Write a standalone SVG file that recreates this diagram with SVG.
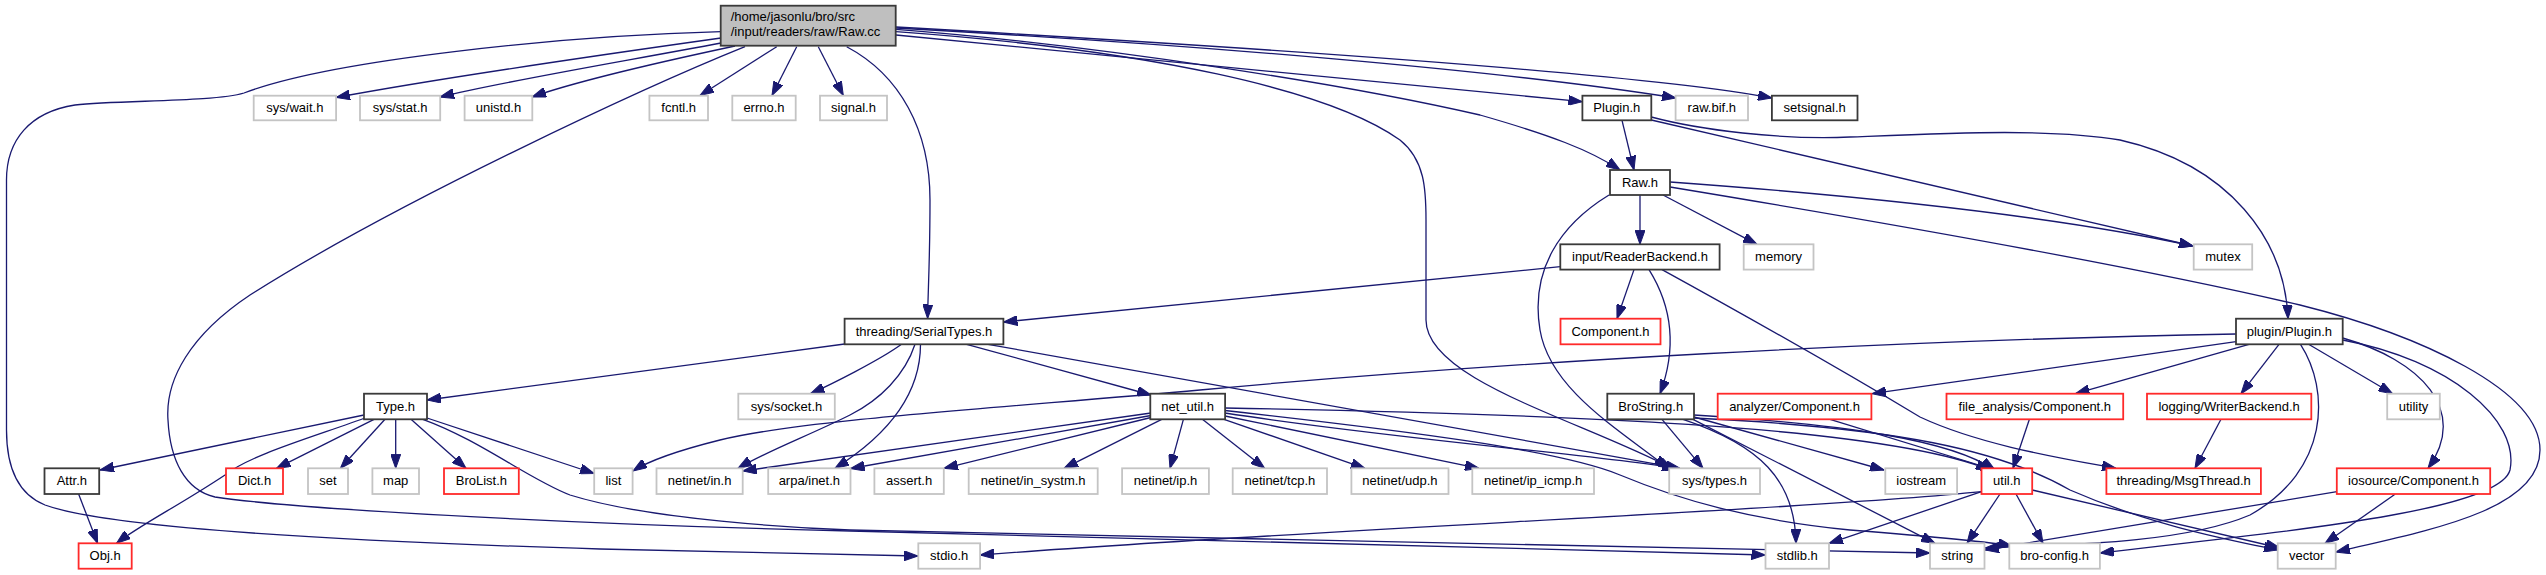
<svg xmlns="http://www.w3.org/2000/svg" width="2546" height="575" viewBox="0 0 2546 575">
<style>
.bg{fill:#ffffff}
.n rect{fill:#ffffff;stroke-width:1.8}
.g rect{stroke:#c4c4c4}
.b rect{stroke:#3a3a3a}
.r rect{stroke:#ff2a2a}
.t rect{fill:#bfbfbf;stroke:#3a3a3a}
.n text{font-family:"Liberation Sans",Arial,Helvetica,sans-serif;font-size:13px;fill:#000000;text-anchor:middle}
.t text{text-anchor:start}
#edges path{fill:none;stroke:#191970;stroke-width:1.3;marker-end:url(#ah)}
</style>
<defs>
<marker id="ah" markerUnits="userSpaceOnUse" markerWidth="14" markerHeight="10" viewBox="0 0 14 10" refX="14" refY="5" orient="auto">
<path d="M0,0 L14,5 L0,10 z" fill="#191970" stroke="#191970" stroke-width="1"/>
</marker>
</defs>
<rect class="bg" x="0" y="0" width="2546" height="575"/>
<g id="edges">
<path d="M721,38 C600,55 430,80 336,97.5"/>
<path d="M721,43 C620,62 500,82 440,97"/>
<path d="M735,46 C660,62 580,80 532,97"/>
<path d="M776.7,46.7 L700,95.5"/>
<path d="M796.7,46.7 L772,95.5"/>
<path d="M818.3,46.7 L843.3,95.5"/>
<path d="M846.7,46.7 C900,75 930,130 930,200 C930,260 928,290 927.6,318.5"/>
<path d="M721,31.7 C560,36 330,60 244,93 C215,102 120,100 75,105 C30,112 6.5,140 6.5,180 L6.5,430 C6.5,470 20,495 45,505 C100,525 300,540 600,549 C750,553 850,555 918,556"/>
<path d="M745,46.7 C650,85 400,200 250,295 C190,335 165,380 168,420 C170,460 185,490 215,497 C300,510 600,525 850,531 C1200,540 1550,548 1765.5,555"/>
<path d="M896,35 L1582.4,101.7"/>
<path d="M896,29.3 C1100,45 1350,85 1480,115 C1550,135 1590,150 1620,170"/>
<path d="M896,28 C1200,45 1500,70 1676,98"/>
<path d="M896,27 C1300,50 1650,75 1772,98"/>
<path d="M896,31.7 C1150,50 1330,90 1400,140 C1425,160 1426,190 1426,220 L1426,320 C1426,380 1580,420 1672,468.3"/>
<path d="M1622,120.3 L1634,170"/>
<path d="M1651.3,120 L2193,246"/>
<path d="M1651.3,117 C1700,130 1780,140 1850,137 C1950,133 2050,128 2120,140 C2230,165 2285,240 2288,318.7"/>
<path d="M1640,195 L1640,244.3"/>
<path d="M1663,195 L1757,244.3"/>
<path d="M1670,182 C1850,195 2050,215 2193,246"/>
<path d="M1670,187 C1900,225 2150,270 2300,305 C2420,335 2540,390 2540,450 C2540,510 2430,530 2336,552"/>
<path d="M1609,195 C1560,225 1530,270 1540,330 C1550,390 1620,430 1668,468.3"/>
<path d="M1560.3,266.7 L1003.4,322"/>
<path d="M1634,269.6 L1617,318.7"/>
<path d="M1649,269.6 C1668,300 1680,340 1660,393.7"/>
<path d="M1662,269.6 C1750,318 1850,375 1920,417 C1980,445 2060,458 2116,468.3"/>
<path d="M844.6,344 L427,400"/>
<path d="M901.5,344.3 C880,360 830,385 810.5,393.7"/>
<path d="M915,344.3 C905,375 880,400 850,415 C810,435 765,452 738,468.3"/>
<path d="M920.5,344.3 C920.5,400 880,440 835,468.3"/>
<path d="M966.6,344.3 L1151,395"/>
<path d="M988,344.3 L1680,468.3"/>
<path d="M364,415 L100,470"/>
<path d="M368,417 C310,438 250,455 225,475 C180,505 140,525 116.5,543.3"/>
<path d="M374,419.3 L276.5,468.3"/>
<path d="M385,419.3 L340.4,468.3"/>
<path d="M395.7,419.3 L395.7,468.3"/>
<path d="M411,419.3 L466,468.3"/>
<path d="M427,418 L594.2,473.5"/>
<path d="M422.8,419.3 C480,440 530,480 570,495 C650,520 800,528 850,530 C1200,538 1700,548 1930,553"/>
<path d="M78.6,494 L97.6,543.3"/>
<path d="M1151,413 L742.7,471"/>
<path d="M1151,415.5 L850.5,468.5"/>
<path d="M1151,417.5 L944,468.3"/>
<path d="M1161.7,419.3 L1064,468.3"/>
<path d="M1183.4,419.3 L1170,468.3"/>
<path d="M1202.4,419.3 L1264.7,468.3"/>
<path d="M1224,419.3 L1365,468.3"/>
<path d="M1225,416 L1479,468.3"/>
<path d="M1225,413 C1400,440 1600,455 1676,468.3"/>
<path d="M1225,408 C1550,414 1880,425 1990,470"/>
<path d="M1225,410.5 C1400,430 1560,450 1620,475 C1680,500 1750,520 1850,530 C1950,538 1990,542 2012,546"/>
<path d="M1662,419.3 L1703,468.3"/>
<path d="M1683,419.3 C1760,445 1795,480 1796,543.3"/>
<path d="M1693,419.3 L1935,543.3"/>
<path d="M1694,417 L1884,470"/>
<path d="M1694,415 C1850,425 1950,440 1995,470"/>
<path d="M1694,418 C1900,428 2000,450 2070,490 C2150,525 2230,540 2278,550"/>
<path d="M1830,419.3 L1995,470"/>
<path d="M2029.4,419.3 L2013,468.3"/>
<path d="M2221,419.3 L2195,468.3"/>
<path d="M2236,334 C1900,340 1500,362 1200,390 C1000,408 800,420 720,440 C680,450 650,460 633,471"/>
<path d="M2236,341.7 L1872,393.7"/>
<path d="M2249,344.3 L2075.5,393.7"/>
<path d="M2279,344.3 L2241,393.7"/>
<path d="M2308.6,344.3 L2392.6,393.7"/>
<path d="M2300.5,344.3 C2330,390 2330,470 2250,515 C2180,545 2050,545 1985,548"/>
<path d="M2342.7,338 C2420,360 2470,410 2428,468.3"/>
<path d="M2342.7,340 C2450,360 2520,420 2510,470 C2500,510 2300,530 2100,553"/>
<path d="M1981.5,491.7 L1829,543.3"/>
<path d="M2000,494 L1967,543.3"/>
<path d="M2016,494 L2043,543.3"/>
<path d="M2032.2,490 L2280,548"/>
<path d="M1981.5,491.7 C1800,510 1300,530 980.1,555"/>
<path d="M2337,491.7 L1985,550"/>
<path d="M2395,494.3 L2325,543.3"/>
</g>
<g id="node_raw_cc" class="n t"><rect x="720.7" y="5.7" width="175" height="40"/><text x="730.7" y="20.6">/home/jasonlu/bro/src</text><text x="730.7" y="35.9">/input/readers/raw/Raw.cc</text></g>
<g id="node_sys_wait" class="n g"><rect x="253.7" y="95.7" width="82.4" height="24.6"/><text x="294.9" y="112.4">sys/wait.h</text></g>
<g id="node_sys_stat" class="n g"><rect x="360" y="95.7" width="80.2" height="24.6"/><text x="400.1" y="112.4">sys/stat.h</text></g>
<g id="node_unistd" class="n g"><rect x="464.6" y="95.7" width="67.7" height="24.6"/><text x="498.45" y="112.4">unistd.h</text></g>
<g id="node_fcntl" class="n g"><rect x="649.4" y="95.7" width="58.6" height="24.6"/><text x="678.7" y="112.4">fcntl.h</text></g>
<g id="node_errno" class="n g"><rect x="732.3" y="95.7" width="63.4" height="24.6"/><text x="764" y="112.4">errno.h</text></g>
<g id="node_signal" class="n g"><rect x="820" y="95.7" width="67" height="24.6"/><text x="853.5" y="112.4">signal.h</text></g>
<g id="node_plugin_h" class="n b"><rect x="1582.4" y="95.7" width="68.9" height="24.6"/><text x="1616.85" y="112.4">Plugin.h</text></g>
<g id="node_raw_bif" class="n g"><rect x="1675.6" y="95.7" width="72.4" height="24.6"/><text x="1711.8" y="112.4">raw.bif.h</text></g>
<g id="node_setsignal" class="n b"><rect x="1771.9" y="95.7" width="85.6" height="24.6"/><text x="1814.7" y="112.4">setsignal.h</text></g>
<g id="node_raw_h" class="n b"><rect x="1610" y="170" width="60" height="25"/><text x="1640" y="186.8">Raw.h</text></g>
<g id="node_readerbackend" class="n b"><rect x="1560.3" y="244.3" width="159.3" height="25.3"/><text x="1639.95" y="261.2">input/ReaderBackend.h</text></g>
<g id="node_memory" class="n g"><rect x="1743.7" y="244.3" width="69.8" height="25.3"/><text x="1778.6" y="261.2">memory</text></g>
<g id="node_mutex" class="n g"><rect x="2193.7" y="244.3" width="58.5" height="25.3"/><text x="2222.95" y="261.2">mutex</text></g>
<g id="node_serialtypes" class="n b"><rect x="844.6" y="318.7" width="158.8" height="25.6"/><text x="924" y="335.6">threading/SerialTypes.h</text></g>
<g id="node_component" class="n r"><rect x="1560.5" y="318.7" width="100" height="25.6"/><text x="1610.5" y="335.6">Component.h</text></g>
<g id="node_plugin_plugin" class="n b"><rect x="2236" y="318.7" width="106.7" height="25.6"/><text x="2289.35" y="335.6">plugin/Plugin.h</text></g>
<g id="node_type" class="n b"><rect x="364" y="393.7" width="63" height="25.6"/><text x="395.5" y="410.6">Type.h</text></g>
<g id="node_sys_socket" class="n g"><rect x="738.3" y="393.7" width="96.5" height="25.6"/><text x="786.55" y="410.6">sys/socket.h</text></g>
<g id="node_net_util" class="n b"><rect x="1150.3" y="393.7" width="74.8" height="25.6"/><text x="1187.7" y="410.6">net_util.h</text></g>
<g id="node_brostring" class="n b"><rect x="1607.3" y="393.7" width="86.7" height="25.6"/><text x="1650.65" y="410.6">BroString.h</text></g>
<g id="node_analyzer_comp" class="n r"><rect x="1717.7" y="393.7" width="153.7" height="25.6"/><text x="1794.55" y="410.6">analyzer/Component.h</text></g>
<g id="node_file_analysis_comp" class="n r"><rect x="1946.5" y="393.7" width="176.7" height="25.6"/><text x="2034.85" y="410.6">file_analysis/Component.h</text></g>
<g id="node_writerbackend" class="n r"><rect x="2147" y="393.7" width="164.3" height="25.6"/><text x="2229.15" y="410.6">logging/WriterBackend.h</text></g>
<g id="node_utility" class="n g"><rect x="2387.2" y="393.7" width="52.6" height="25.6"/><text x="2413.5" y="410.6">utility</text></g>
<g id="node_attr" class="n b"><rect x="44.5" y="468.3" width="54.7" height="25.7"/><text x="71.85" y="485.2">Attr.h</text></g>
<g id="node_dict" class="n r"><rect x="226" y="468.3" width="57" height="25.7"/><text x="254.5" y="485.2">Dict.h</text></g>
<g id="node_set" class="n g"><rect x="308" y="468.3" width="40" height="25.7"/><text x="328" y="485.2">set</text></g>
<g id="node_map" class="n g"><rect x="372.4" y="468.3" width="46.6" height="25.7"/><text x="395.7" y="485.2">map</text></g>
<g id="node_brolist" class="n r"><rect x="444" y="468.3" width="74.8" height="25.7"/><text x="481.4" y="485.2">BroList.h</text></g>
<g id="node_list" class="n g"><rect x="594.2" y="468.3" width="38.4" height="25.7"/><text x="613.4" y="485.2">list</text></g>
<g id="node_netinet_in" class="n g"><rect x="656.5" y="468.3" width="86.2" height="25.7"/><text x="699.6" y="485.2">netinet/in.h</text></g>
<g id="node_arpa_inet" class="n g"><rect x="768.2" y="468.3" width="82.3" height="25.7"/><text x="809.35" y="485.2">arpa/inet.h</text></g>
<g id="node_assert" class="n g"><rect x="874.4" y="468.3" width="69.4" height="25.7"/><text x="909.1" y="485.2">assert.h</text></g>
<g id="node_in_systm" class="n g"><rect x="968.7" y="468.3" width="129" height="25.7"/><text x="1033.2" y="485.2">netinet/in_systm.h</text></g>
<g id="node_netinet_ip" class="n g"><rect x="1122.1" y="468.3" width="86.8" height="25.7"/><text x="1165.5" y="485.2">netinet/ip.h</text></g>
<g id="node_netinet_tcp" class="n g"><rect x="1232.7" y="468.3" width="94.3" height="25.7"/><text x="1279.85" y="485.2">netinet/tcp.h</text></g>
<g id="node_netinet_udp" class="n g"><rect x="1351.4" y="468.3" width="97.1" height="25.7"/><text x="1399.95" y="485.2">netinet/udp.h</text></g>
<g id="node_ip_icmp" class="n g"><rect x="1472.3" y="468.3" width="121.7" height="25.7"/><text x="1533.15" y="485.2">netinet/ip_icmp.h</text></g>
<g id="node_sys_types" class="n g"><rect x="1669.2" y="468.3" width="90.8" height="25.7"/><text x="1714.6" y="485.2">sys/types.h</text></g>
<g id="node_iostream" class="n g"><rect x="1885.3" y="468.3" width="71.8" height="25.7"/><text x="1921.2" y="485.2">iostream</text></g>
<g id="node_util" class="n r"><rect x="1981.5" y="468.3" width="50.7" height="25.7"/><text x="2006.85" y="485.2">util.h</text></g>
<g id="node_msgthread" class="n r"><rect x="2106.4" y="468.3" width="154.5" height="25.7"/><text x="2183.65" y="485.2">threading/MsgThread.h</text></g>
<g id="node_iosource_comp" class="n r"><rect x="2336.8" y="468.3" width="153.4" height="25.7"/><text x="2413.5" y="485.2">iosource/Component.h</text></g>
<g id="node_obj" class="n r"><rect x="78.6" y="543.3" width="53.1" height="25.4"/><text x="105.15" y="560.1">Obj.h</text></g>
<g id="node_stdio" class="n g"><rect x="918.3" y="543.3" width="61.8" height="25.4"/><text x="949.2" y="560.1">stdio.h</text></g>
<g id="node_stdlib" class="n g"><rect x="1765.5" y="543.3" width="63.5" height="25.4"/><text x="1797.25" y="560.1">stdlib.h</text></g>
<g id="node_string" class="n g"><rect x="1930" y="543.3" width="54.5" height="25.4"/><text x="1957.25" y="560.1">string</text></g>
<g id="node_bro_config" class="n g"><rect x="2009.3" y="543.3" width="90.6" height="25.4"/><text x="2054.6" y="560.1">bro-config.h</text></g>
<g id="node_vector" class="n g"><rect x="2277.7" y="543.3" width="58" height="25.4"/><text x="2306.7" y="560.1">vector</text></g>
</svg>
